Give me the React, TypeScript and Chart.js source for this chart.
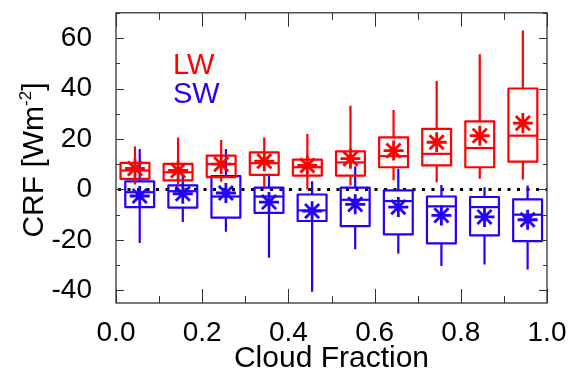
import { useEffect, useRef } from 'react';
import { Chart, registerables } from 'chart.js';
Chart.register(...registerables);

const binCenters = [0.05, 0.15, 0.25, 0.35, 0.45, 0.55, 0.65, 0.75, 0.85, 0.95];

const lwMin = [2, 2, 3, 0.9, 0, 1.6, 3.6, 2.9, 4.2, 3.9];
const lwQ1 = [4.2, 3.6, 4.9, 5.8, 5.5, 5.5, 8.8, 9.5, 8.8, 11];
const lwMedian = [7.5, 6.8, 10.1, 10.4, 8.8, 10.7, 13.2, 14.1, 16.4, 21.3];
const lwQ3 = [10.5, 10.1, 13.4, 14.7, 11.8, 15.1, 20.6, 24, 27, 40];
const lwMax = [17, 20.6, 19.6, 20.6, 22, 33.2, 31.5, 43, 53.6, 63];
const lwMean = [8.3, 7.5, 10, 11.2, 9.5, 12.2, 15.4, 18.7, 21.3, 26.3];

const swMin = [-21.2, -12.9, -16.8, -27.1, -40.5, -23.7, -25.4, -30.3, -29.7, -31.7];
const swQ1 = [-7, -7.2, -11.2, -9.3, -12.5, -14.5, -17.8, -21.4, -18.2, -20.5];
const swMedian = [-1.1, -0.7, -2.8, -2.8, -8.3, -4.1, -4.6, -6.7, -7, -10];
const swQ3 = [3.2, 1.6, 5.3, 0.7, -2, 0.7, -0.4, -2.8, -3, -3.9];
const swMax = [16, 5.5, 16, 6.2, 3.2, 9.1, 8.2, 1.8, 0.9, 1.6];
const swMean = [-2.6, -1.7, -1.4, -5, -8.6, -5.9, -7, -10.3, -10.9, -12];

const xTicks = [0, 0.2, 0.4, 0.6, 0.8, 1.0];
const yTicks = [-40, -20, 0, 20, 40, 60];

const LW_OFFSET = -0.006;
const SW_OFFSET = 0.005;
const BOX_HALF = 0.0335;

const RED = '#ff0000';
const BLUE = '#2200ff';
const FONT = '"Liberation Sans", Arial, Helvetica, sans-serif';

const series = [
  { off: LW_OFFSET, min: lwMin, q1: lwQ1, med: lwMedian, q3: lwQ3, max: lwMax, color: RED },
  { off: SW_OFFSET, min: swMin, q1: swQ1, med: swMedian, q3: swQ3, max: swMax, color: BLUE },
];

const boxPlugin = {
  id: 'boxPlugin',
  beforeDatasetsDraw(chart: any) {
    const { ctx, chartArea, scales } = chart;
    const y0 = scales.y.getPixelForValue(0);
    ctx.save();
    ctx.strokeStyle = '#000';
    ctx.lineWidth = 3;
    ctx.setLineDash([3, 6.5]);
    ctx.beginPath();
    ctx.moveTo(chartArea.left + 2, y0);
    ctx.lineTo(chartArea.right, y0);
    ctx.stroke();
    ctx.restore();
  },
  beforeDatasetDraw(chart: any, args: any) {
    const s = series[args.index];
    if (!s) return;
    const { ctx, scales } = chart;
    const xs = scales.x, ys = scales.y;
    ctx.save();
    ctx.strokeStyle = s.color;
    ctx.lineWidth = 2.2;
    ctx.lineJoin = 'round';
    binCenters.forEach((c, i) => {
      const cx = xs.getPixelForValue(c + s.off);
      const l = xs.getPixelForValue(c + s.off - BOX_HALF);
      const r = xs.getPixelForValue(c + s.off + BOX_HALF);
      const pMin = ys.getPixelForValue(s.min[i]);
      const pQ1 = ys.getPixelForValue(s.q1[i]);
      const pMed = ys.getPixelForValue(s.med[i]);
      const pQ3 = ys.getPixelForValue(s.q3[i]);
      const pMax = ys.getPixelForValue(s.max[i]);
      ctx.beginPath();
      ctx.moveTo(cx, pQ3); ctx.lineTo(cx, pMax);
      ctx.moveTo(cx, pQ1); ctx.lineTo(cx, pMin);
      ctx.stroke();
      ctx.beginPath();
      ctx.rect(l, pQ3, r - l, pQ1 - pQ3);
      ctx.stroke();
      ctx.beginPath();
      ctx.moveTo(l, pMed); ctx.lineTo(r, pMed);
      ctx.stroke();
    });
    ctx.restore();
  },
  afterDraw(chart: any) {
    const { ctx, chartArea, scales } = chart;
    const { left, right, top, bottom } = chartArea;
    ctx.save();
    ctx.strokeStyle = '#333';
    ctx.lineWidth = 1.3;
    ctx.setLineDash([]);
    ctx.strokeRect(left, top, right - left, bottom - top);
    ctx.lineWidth = 1;
    ctx.beginPath();
    for (let k = 0; k <= 10; k++) {
      const v = k / 10;
      const px = Math.round(scales.x.getPixelForValue(v)) + 0.5;
      const len = k % 2 === 0 ? 14 : 7;
      ctx.moveTo(px, bottom); ctx.lineTo(px, bottom - len);
      ctx.moveTo(px, top); ctx.lineTo(px, top + len);
    }
    for (let v = -40; v <= 70; v += 10) {
      const py = Math.round(scales.y.getPixelForValue(v)) + 0.5;
      const len = v % 20 === 0 ? 8 : 4;
      ctx.moveTo(left, py); ctx.lineTo(left + len, py);
      ctx.moveTo(right, py); ctx.lineTo(right - len, py);
    }
    ctx.stroke();

    // legend
    ctx.font = `29px ${FONT}`;
    ctx.textAlign = 'left';
    ctx.textBaseline = 'alphabetic';
    ctx.fillStyle = RED;
    ctx.fillText('LW', left + 57, top + 61);
    ctx.fillStyle = BLUE;
    ctx.fillText('SW', left + 57, top + 90);

    // y title
    ctx.fillStyle = '#000';
    ctx.translate(43, 160);
    ctx.rotate(-Math.PI / 2);
    const big = `30px ${FONT}`;
    const small = `17px ${FONT}`;
    ctx.font = big;
    const t1 = 'CRF [Wm';
    const w1 = ctx.measureText(t1).width;
    ctx.font = small;
    const t2 = '-2';
    const w2 = ctx.measureText(t2).width;
    ctx.font = big;
    const t3 = ']';
    const w3 = ctx.measureText(t3).width;
    const total = w1 + w2 + w3;
    let x = -total / 2;
    ctx.fillText(t1, x, 0);
    x += w1;
    ctx.font = small;
    ctx.fillText(t2, x, -12);
    x += w2;
    ctx.font = big;
    ctx.fillText(t3, x, 0);
    ctx.restore();
  },
};

export default function App() {
  const ref = useRef<HTMLCanvasElement | null>(null);
  useEffect(() => {
    if (!ref.current) return;
    const chart = new Chart(ref.current, {
      type: 'scatter',
      data: {
        datasets: [
          {
            label: 'LW',
            data: binCenters.map((c, i) => ({ x: c + LW_OFFSET, y: lwMean[i] })),
            pointStyle: 'star',
            radius: 10,
            borderWidth: 2.8,
            borderColor: RED,
            backgroundColor: RED,
          },
          {
            label: 'SW',
            data: binCenters.map((c, i) => ({ x: c + SW_OFFSET, y: swMean[i] })),
            pointStyle: 'star',
            radius: 10,
            borderWidth: 2.8,
            borderColor: BLUE,
            backgroundColor: BLUE,
          },
        ],
      },
      options: {
        animation: false,
        responsive: false,
        events: [],
        layout: { padding: { left: 0, right: 23, top: 12, bottom: 0 } },
        plugins: { legend: { display: false }, tooltip: { enabled: false } },
        scales: {
          x: {
            type: 'linear',
            min: 0,
            max: 1,
            grid: { display: false },
            border: { display: false },
            afterBuildTicks: (s: any) => { s.ticks = xTicks.map((v) => ({ value: v })); },
            afterFit: (s: any) => { s.height = 76; s.paddingLeft = 0; s.paddingRight = 0; },
            ticks: {
              autoSkip: false,
              maxRotation: 0,
              padding: 5,
              color: '#000',
              font: { family: FONT, size: 28 },
              callback: (v: any) => Number(v).toFixed(1),
            },
            title: {
              display: true,
              text: 'Cloud Fraction',
              color: '#000',
              font: { family: FONT, size: 30 },
              padding: { top: 0, bottom: 2 },
            },
          },
          y: {
            type: 'linear',
            min: -45,
            max: 70,
            grid: { display: false },
            border: { display: false },
            afterBuildTicks: (s: any) => { s.ticks = yTicks.map((v) => ({ value: v })); },
            afterFit: (s: any) => { s.width = 116; s.paddingTop = 0; s.paddingBottom = 0; },
            ticks: {
              padding: 16,
              color: '#000',
              font: { family: FONT, size: 28 },
              callback: (v: any) => String(v),
            },
          },
        },
      },
      plugins: [boxPlugin],
    });
    return () => chart.destroy();
  }, []);
  return (
    <div style={{ position: 'absolute', left: 0, top: 0, width: 570, height: 379, background: '#fff' }}>
      <canvas ref={ref} width={570} height={379} style={{ width: 570, height: 379, display: 'block' }} />
    </div>
  );
}
